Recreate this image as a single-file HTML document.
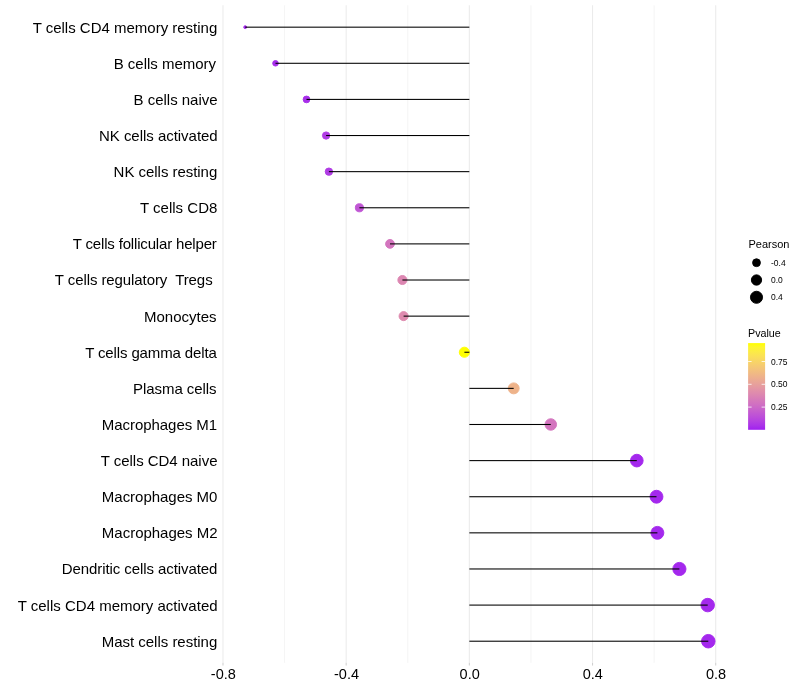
<!DOCTYPE html>
<html><head><meta charset="utf-8"><style>
html,body{margin:0;padding:0;background:#fff;width:800px;height:700px;overflow:hidden}
svg{display:block;will-change:transform}
text{font-family:"Liberation Sans",sans-serif;font-size:15px;fill:#000}
</style></head><body>
<svg width="800" height="700" viewBox="0 0 800 700">
<rect width="800" height="700" fill="#fff"/>
<line x1="284.58" y1="5.33" x2="284.58" y2="662.8" stroke="#ebebeb" stroke-width="0.53"/>
<line x1="407.76" y1="5.33" x2="407.76" y2="662.8" stroke="#ebebeb" stroke-width="0.53"/>
<line x1="530.94" y1="5.33" x2="530.94" y2="662.8" stroke="#ebebeb" stroke-width="0.53"/>
<line x1="654.12" y1="5.33" x2="654.12" y2="662.8" stroke="#ebebeb" stroke-width="0.53"/>
<line x1="222.99" y1="5.33" x2="222.99" y2="662.8" stroke="#ebebeb" stroke-width="1.07"/>
<line x1="222.99" y1="662.8" x2="222.99" y2="665.55" stroke="#d0d0d0" stroke-width="1.07"/>
<line x1="346.17" y1="5.33" x2="346.17" y2="662.8" stroke="#ebebeb" stroke-width="1.07"/>
<line x1="346.17" y1="662.8" x2="346.17" y2="665.55" stroke="#d0d0d0" stroke-width="1.07"/>
<line x1="469.35" y1="5.33" x2="469.35" y2="662.8" stroke="#ebebeb" stroke-width="1.07"/>
<line x1="469.35" y1="662.8" x2="469.35" y2="665.55" stroke="#d0d0d0" stroke-width="1.07"/>
<line x1="592.53" y1="5.33" x2="592.53" y2="662.8" stroke="#ebebeb" stroke-width="1.07"/>
<line x1="592.53" y1="662.8" x2="592.53" y2="665.55" stroke="#d0d0d0" stroke-width="1.07"/>
<line x1="715.71" y1="5.33" x2="715.71" y2="662.8" stroke="#ebebeb" stroke-width="1.07"/>
<line x1="715.71" y1="662.8" x2="715.71" y2="665.55" stroke="#d0d0d0" stroke-width="1.07"/>
<circle cx="245.20" cy="27.17" r="1.42" fill="#a428ed" stroke="#a428ed" stroke-width="0.945"/>
<circle cx="275.50" cy="63.29" r="2.79" fill="#a62ceb" stroke="#a62ceb" stroke-width="0.945"/>
<circle cx="306.50" cy="99.41" r="3.36" fill="#a82fea" stroke="#a82fea" stroke-width="0.945"/>
<circle cx="326.10" cy="135.53" r="3.65" fill="#b03ce4" stroke="#b03ce4" stroke-width="0.945"/>
<circle cx="328.90" cy="171.65" r="3.69" fill="#b03ce4" stroke="#b03ce4" stroke-width="0.945"/>
<circle cx="359.40" cy="207.77" r="4.07" fill="#c056d4" stroke="#c056d4" stroke-width="0.945"/>
<circle cx="390.00" cy="243.89" r="4.40" fill="#d375be" stroke="#d375be" stroke-width="0.945"/>
<circle cx="402.40" cy="280.01" r="4.53" fill="#dc86b1" stroke="#dc86b1" stroke-width="0.945"/>
<circle cx="403.60" cy="316.13" r="4.54" fill="#de8aae" stroke="#de8aae" stroke-width="0.945"/>
<circle cx="464.40" cy="352.25" r="5.09" fill="#ffff00" stroke="#ffff00" stroke-width="0.945"/>
<circle cx="513.70" cy="388.37" r="5.48" fill="#eeb38a" stroke="#eeb38a" stroke-width="0.945"/>
<circle cx="550.80" cy="424.49" r="5.76" fill="#d375be" stroke="#d375be" stroke-width="0.945"/>
<circle cx="636.80" cy="460.61" r="6.33" fill="#a428ed" stroke="#a428ed" stroke-width="0.945"/>
<circle cx="656.50" cy="496.73" r="6.45" fill="#a428ed" stroke="#a428ed" stroke-width="0.945"/>
<circle cx="657.40" cy="532.85" r="6.45" fill="#a428ed" stroke="#a428ed" stroke-width="0.945"/>
<circle cx="679.40" cy="568.97" r="6.59" fill="#a428ed" stroke="#a428ed" stroke-width="0.945"/>
<circle cx="707.70" cy="605.09" r="6.75" fill="#a428ed" stroke="#a428ed" stroke-width="0.945"/>
<circle cx="708.30" cy="641.21" r="6.76" fill="#a428ed" stroke="#a428ed" stroke-width="0.945"/>
<rect x="245.20" y="26" width="224.15" height="1" fill="#000" fill-opacity="0.365"/>
<rect x="245.20" y="27" width="224.15" height="1" fill="#000" fill-opacity="0.705"/>
<rect x="275.50" y="62" width="193.85" height="1" fill="#000" fill-opacity="0.245"/>
<rect x="275.50" y="63" width="193.85" height="1" fill="#000" fill-opacity="0.825"/>
<rect x="306.50" y="98" width="162.85" height="1" fill="#000" fill-opacity="0.125"/>
<rect x="306.50" y="99" width="162.85" height="1" fill="#000" fill-opacity="0.945"/>
<rect x="326.10" y="135" width="143.25" height="1" fill="#000" fill-opacity="1.000"/>
<rect x="326.10" y="136" width="143.25" height="1" fill="#000" fill-opacity="0.065"/>
<rect x="328.90" y="171" width="140.45" height="1" fill="#000" fill-opacity="0.885"/>
<rect x="328.90" y="172" width="140.45" height="1" fill="#000" fill-opacity="0.185"/>
<rect x="359.40" y="207" width="109.95" height="1" fill="#000" fill-opacity="0.765"/>
<rect x="359.40" y="208" width="109.95" height="1" fill="#000" fill-opacity="0.305"/>
<rect x="390.00" y="243" width="79.35" height="1" fill="#000" fill-opacity="0.645"/>
<rect x="390.00" y="244" width="79.35" height="1" fill="#000" fill-opacity="0.425"/>
<rect x="402.40" y="279" width="66.95" height="1" fill="#000" fill-opacity="0.525"/>
<rect x="402.40" y="280" width="66.95" height="1" fill="#000" fill-opacity="0.545"/>
<rect x="403.60" y="315" width="65.75" height="1" fill="#000" fill-opacity="0.405"/>
<rect x="403.60" y="316" width="65.75" height="1" fill="#000" fill-opacity="0.665"/>
<rect x="464.40" y="351" width="4.95" height="1" fill="#000" fill-opacity="0.285"/>
<rect x="464.40" y="352" width="4.95" height="1" fill="#000" fill-opacity="0.785"/>
<rect x="469.35" y="387" width="44.35" height="1" fill="#000" fill-opacity="0.165"/>
<rect x="469.35" y="388" width="44.35" height="1" fill="#000" fill-opacity="0.905"/>
<rect x="469.35" y="423" width="81.45" height="1" fill="#000" fill-opacity="0.045"/>
<rect x="469.35" y="424" width="81.45" height="1" fill="#000" fill-opacity="1.000"/>
<rect x="469.35" y="425" width="81.45" height="1" fill="#000" fill-opacity="0.025"/>
<rect x="469.35" y="460" width="167.45" height="1" fill="#000" fill-opacity="0.925"/>
<rect x="469.35" y="461" width="167.45" height="1" fill="#000" fill-opacity="0.145"/>
<rect x="469.35" y="496" width="187.15" height="1" fill="#000" fill-opacity="0.805"/>
<rect x="469.35" y="497" width="187.15" height="1" fill="#000" fill-opacity="0.265"/>
<rect x="469.35" y="532" width="188.05" height="1" fill="#000" fill-opacity="0.685"/>
<rect x="469.35" y="533" width="188.05" height="1" fill="#000" fill-opacity="0.385"/>
<rect x="469.35" y="568" width="210.05" height="1" fill="#000" fill-opacity="0.565"/>
<rect x="469.35" y="569" width="210.05" height="1" fill="#000" fill-opacity="0.505"/>
<rect x="469.35" y="604" width="238.35" height="1" fill="#000" fill-opacity="0.445"/>
<rect x="469.35" y="605" width="238.35" height="1" fill="#000" fill-opacity="0.625"/>
<rect x="469.35" y="640" width="238.95" height="1" fill="#000" fill-opacity="0.325"/>
<rect x="469.35" y="641" width="238.95" height="1" fill="#000" fill-opacity="0.745"/>
<text x="217.27" y="33" text-anchor="end" textLength="184.61" lengthAdjust="spacing" xml:space="preserve">T cells CD4 memory resting</text>
<text x="216.03" y="69" text-anchor="end" textLength="102.36" lengthAdjust="spacing" xml:space="preserve">B cells memory</text>
<text x="217.57" y="105" text-anchor="end" textLength="84.00" lengthAdjust="spacing" xml:space="preserve">B cells naive</text>
<text x="217.67" y="141" text-anchor="end" textLength="118.70" lengthAdjust="spacing" xml:space="preserve">NK cells activated</text>
<text x="217.27" y="177" text-anchor="end" textLength="103.65" lengthAdjust="spacing" xml:space="preserve">NK cells resting</text>
<text x="217.35" y="213" text-anchor="end" textLength="77.44" lengthAdjust="spacing" xml:space="preserve">T cells CD8</text>
<text x="216.85" y="249" text-anchor="end" textLength="144.04" lengthAdjust="spacing" xml:space="preserve">T cells follicular helper</text>
<text x="216.71" y="285" text-anchor="end" textLength="161.85" lengthAdjust="spacing" xml:space="preserve">T cells regulatory  Tregs </text>
<text x="216.54" y="322" text-anchor="end" textLength="72.62" lengthAdjust="spacing" xml:space="preserve">Monocytes</text>
<text x="216.80" y="358" text-anchor="end" textLength="131.64" lengthAdjust="spacing" xml:space="preserve">T cells gamma delta</text>
<text x="216.54" y="394" text-anchor="end" textLength="83.47" lengthAdjust="spacing" xml:space="preserve">Plasma cells</text>
<text x="217.00" y="430" text-anchor="end" textLength="115.13" lengthAdjust="spacing" xml:space="preserve">Macrophages M1</text>
<text x="217.47" y="466" text-anchor="end" textLength="116.71" lengthAdjust="spacing" xml:space="preserve">T cells CD4 naive</text>
<text x="217.39" y="502" text-anchor="end" textLength="115.52" lengthAdjust="spacing" xml:space="preserve">Macrophages M0</text>
<text x="217.55" y="538" text-anchor="end" textLength="115.68" lengthAdjust="spacing" xml:space="preserve">Macrophages M2</text>
<text x="217.37" y="574" text-anchor="end" textLength="155.70" lengthAdjust="spacing" xml:space="preserve">Dendritic cells activated</text>
<text x="217.57" y="611" text-anchor="end" textLength="199.91" lengthAdjust="spacing" xml:space="preserve">T cells CD4 memory activated</text>
<text x="217.27" y="647" text-anchor="end" textLength="115.50" lengthAdjust="spacing" xml:space="preserve">Mast cells resting</text>
<text transform="translate(223.29,678.9) scale(0.968,1)" style="font-size:15.0px" text-anchor="middle">-0.8</text>
<text transform="translate(346.47,678.9) scale(0.968,1)" style="font-size:15.0px" text-anchor="middle">-0.4</text>
<text transform="translate(469.65,678.9) scale(0.968,1)" style="font-size:15.0px" text-anchor="middle">0.0</text>
<text transform="translate(592.83,678.9) scale(0.968,1)" style="font-size:15.0px" text-anchor="middle">0.4</text>
<text transform="translate(716.01,678.9) scale(0.968,1)" style="font-size:15.0px" text-anchor="middle">0.8</text>
<text x="748.5" y="248.0" style="font-size:11px">Pearson</text>
<circle cx="756.5" cy="262.70" r="3.91" fill="#000" stroke="#000" stroke-width="0.945"/>
<text transform="translate(771,265.70) scale(0.965,1)" style="font-size:8.8px">-0.4</text>
<circle cx="756.5" cy="280.00" r="5.13" fill="#000" stroke="#000" stroke-width="0.945"/>
<text transform="translate(771,283.00) scale(0.965,1)" style="font-size:8.8px">0.0</text>
<circle cx="756.5" cy="297.30" r="6.04" fill="#000" stroke="#000" stroke-width="0.945"/>
<text transform="translate(771,300.30) scale(0.965,1)" style="font-size:8.8px">0.4</text>
<text x="748.0" y="336.9" style="font-size:11px" textLength="32.8" lengthAdjust="spacingAndGlyphs">Pvalue</text>
<defs><linearGradient id="g" x1="0" y1="0" x2="0" y2="1"><stop offset="0.00" stop-color="#ffff00"/><stop offset="0.05" stop-color="#fef530"/><stop offset="0.10" stop-color="#fceb46"/><stop offset="0.15" stop-color="#fbe156"/><stop offset="0.20" stop-color="#f8d763"/><stop offset="0.25" stop-color="#f6cd6f"/><stop offset="0.30" stop-color="#f3c37a"/><stop offset="0.35" stop-color="#f0b984"/><stop offset="0.40" stop-color="#edaf8e"/><stop offset="0.45" stop-color="#e9a597"/><stop offset="0.50" stop-color="#e59ba0"/><stop offset="0.55" stop-color="#e190a9"/><stop offset="0.60" stop-color="#dc86b1"/><stop offset="0.65" stop-color="#d67bb9"/><stop offset="0.70" stop-color="#d171c1"/><stop offset="0.75" stop-color="#ca66c9"/><stop offset="0.80" stop-color="#c35ad1"/><stop offset="0.85" stop-color="#bc4ed9"/><stop offset="0.90" stop-color="#b441e1"/><stop offset="0.95" stop-color="#aa33e8"/><stop offset="1.00" stop-color="#a020f0"/></linearGradient></defs>
<rect x="748.1" y="343.1" width="17.0" height="86.7" fill="url(#g)"/>
<line x1="748.1" y1="361.50" x2="751.6" y2="361.50" stroke="#fff" stroke-width="0.8"/>
<line x1="761.6" y1="361.50" x2="765.1" y2="361.50" stroke="#fff" stroke-width="0.8"/>
<text transform="translate(771,364.50) scale(0.965,1)" style="font-size:8.8px">0.75</text>
<line x1="748.1" y1="384.30" x2="751.6" y2="384.30" stroke="#fff" stroke-width="0.8"/>
<line x1="761.6" y1="384.30" x2="765.1" y2="384.30" stroke="#fff" stroke-width="0.8"/>
<text transform="translate(771,387.30) scale(0.965,1)" style="font-size:8.8px">0.50</text>
<line x1="748.1" y1="407.10" x2="751.6" y2="407.10" stroke="#fff" stroke-width="0.8"/>
<line x1="761.6" y1="407.10" x2="765.1" y2="407.10" stroke="#fff" stroke-width="0.8"/>
<text transform="translate(771,410.10) scale(0.965,1)" style="font-size:8.8px">0.25</text>
</svg></body></html>
